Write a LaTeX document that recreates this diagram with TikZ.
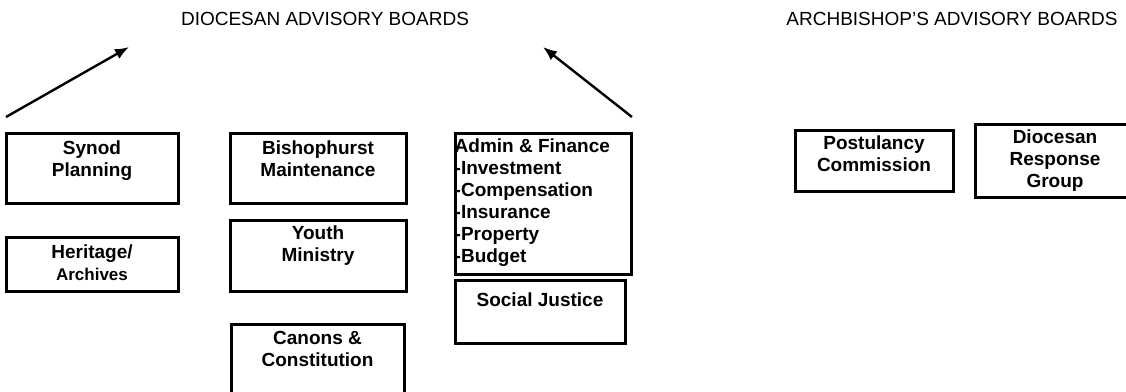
\documentclass[tikz,border=0pt]{standalone}
\usepackage{fontspec}
\setmainfont{Liberation Sans}
\usetikzlibrary{arrows.meta}
\begin{document}
\begin{tikzpicture}[x=1pt,y=-1pt,
  board/.style={draw, line width=3pt, inner sep=0pt},
  boardtext/.style={anchor=north, inner sep=0pt, align=center, font=\fontsize{19}{22}\selectfont\bfseries},
  heading/.style={inner sep=0pt, font=\fontsize{19}{22}\selectfont},
  link/.style={line width=2.4pt, -{Latex[length=14pt,width=11pt]}}]
\useasboundingbox (0,0) rectangle (1126,391);

\node[heading] (dioc) at (325,19) {DIOCESAN ADVISORY BOARDS};
\node[heading] (arch) at (952,19) {ARCHBISHOP'S ADVISORY BOARDS};

% arrows up to the diocesan boards
\coordinate (l0) at (6,117); \coordinate (l1) at (129,47);
\coordinate (r0) at (632,117); \coordinate (r1) at (543,47);
\draw[link] (l0) -- (l1);
\draw[link] (r0) -- (r1);

% first column
\node[board, minimum width=172, minimum height=70] (synod) at (92,168) {};
\node[boardtext] at ([yshift=-9]synod.north) {Synod\\Planning};
\node[board, minimum width=172, minimum height=54] (heritage) at (92,264) {};
\node[boardtext] at ([yshift=-9]heritage.north) {Heritage/\\\fontsize{17}{20}\selectfont Archives};

% second column
\node[board, minimum width=176, minimum height=70] (bishop) at (318,168) {};
\node[boardtext] at ([yshift=-9]bishop.north) {Bishophurst\\Maintenance};
\node[board, minimum width=176, minimum height=71] (youth) at (318,255.5) {};
\node[boardtext] at ([yshift=-7]youth.north) {Youth\\Ministry};
\node[board, minimum width=173, minimum height=84] (canons) at (317.5,366) {};
\node[boardtext] at ([yshift=-9]canons.north) {Canons \&\\Constitution};

% third column
\node[board, minimum width=176, minimum height=141] (admin) at (543,203.5) {};
\node[boardtext, anchor=north west, align=left] at ([xshift=1,yshift=-7]admin.north west)
  {Admin \& Finance\\-Investment\\-Compensation\\-Insurance\\-Property\\-Budget};
\node[board, minimum width=170, minimum height=63] (social) at (540,311.5) {};
\node[boardtext] at ([yshift=-14]social.north) {Social Justice};

% archbishop's boards
\node[board, minimum width=158, minimum height=61] (postulancy) at (874,160.5) {};
\node[boardtext] at ([yshift=-7]postulancy.north) {Postulancy\\Commission};
\node[board, minimum width=160, minimum height=73] (response) at (1055,160.5) {};
\node[boardtext] at ([yshift=-7]response.north) {Diocesan\\Response\\Group};
\end{tikzpicture}
\end{document}
